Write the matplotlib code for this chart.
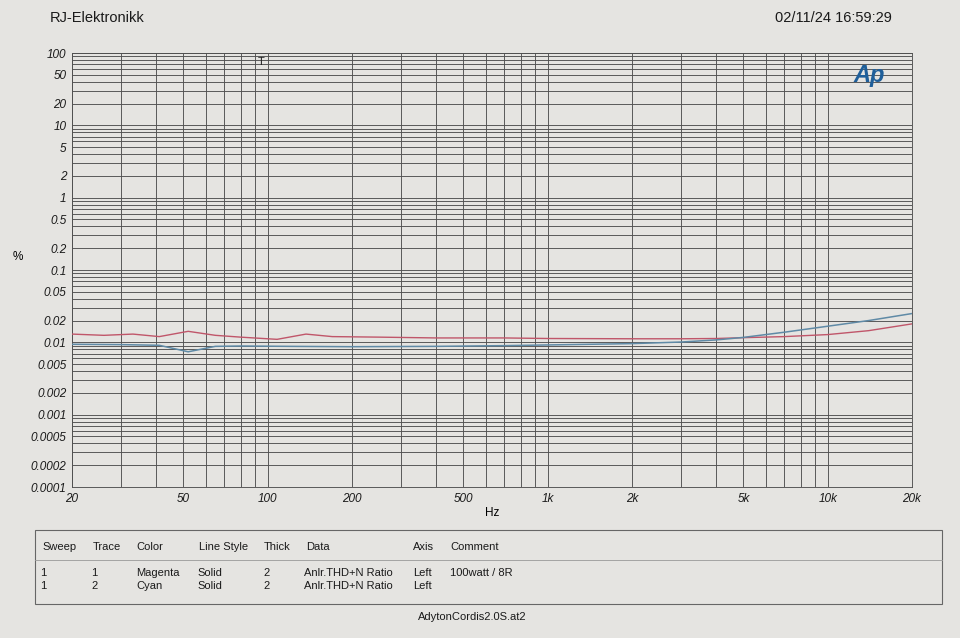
import matplotlib.pyplot as plt
import matplotlib.ticker as mticker
from matplotlib.patches import Rectangle

# THD+N ratio (%)
freq_magenta = [20, 26, 33, 41, 52, 65, 80, 108, 137, 170, 250, 400, 700, 1000,
                2000, 3000, 4000, 5000, 7000, 10000, 14000, 20000]
thd_magenta = [0.013, 0.0125, 0.013, 0.012, 0.0142, 0.0125, 0.0118, 0.011, 0.013,
               0.012, 0.0118, 0.0115, 0.0115, 0.0113, 0.0112, 0.0112, 0.0113,
               0.0116, 0.012, 0.0128, 0.0145, 0.018]

freq_cyan = [20, 30, 41, 52, 65, 80, 120, 200, 400, 700, 1000, 2000, 3000, 4000,
             5000, 7000, 10000, 14000, 20000]
thd_cyan = [0.0094, 0.0093, 0.0091, 0.0074, 0.0088, 0.0089, 0.0088, 0.0087, 0.0088,
            0.009, 0.0092, 0.0096, 0.0101, 0.0108, 0.0117, 0.0138, 0.0167, 0.020, 0.025]

x_ticks = [20, 50, 100, 200, 500, 1000, 2000, 5000, 10000, 20000]
x_labels = ['20', '50', '100', '200', '500', '1k', '2k', '5k', '10k', '20k']
y_ticks = [100, 50, 20, 10, 5, 2, 1, 0.5, 0.2, 0.1, 0.05, 0.02, 0.01, 0.005,
           0.002, 0.001, 0.0005, 0.0002, 0.0001]
y_labels = ['100', '50', '20', '10', '5', '2', '1', '0.5', '0.2', '0.1', '0.05',
            '0.02', '0.01', '0.005', '0.002', '0.001', '0.0005', '0.0002', '0.0001']

table_header = ['Sweep', 'Trace', 'Color', 'Line Style', 'Thick', 'Data', 'Axis', 'Comment']
table_rows = [['1', '1', 'Magenta', 'Solid', '2', 'Anlr.THD+N Ratio', 'Left', '100watt / 8R'],
              ['1', '2', 'Cyan', 'Solid', '2', 'Anlr.THD+N Ratio', 'Left', '']]

plt.rcParams['font.family'] = ['Liberation Sans', 'DejaVu Sans']
W, H = 960, 638
bg = '#e5e4e1'
fig = plt.figure(figsize=(9.6, 6.38), dpi=100, facecolor=bg)

ax = fig.add_axes([72 / W, 1 - 487 / H, (912 - 72) / W, (487 - 53) / H])
ax.set_facecolor(bg)
ax.set_xscale('log')
ax.set_yscale('log')
ax.set_xlim(20, 20000)
ax.set_ylim(0.0001, 100)

ax.plot(freq_magenta, thd_magenta, color='#c0566a', lw=1.0, zorder=3)
ax.plot(freq_cyan, thd_cyan, color='#5f8aa6', lw=1.1, zorder=3)

ax.xaxis.set_major_locator(mticker.FixedLocator(x_ticks))
ax.xaxis.set_major_formatter(mticker.FixedFormatter(x_labels))
ax.xaxis.set_minor_locator(mticker.LogLocator(base=10, subs=range(1, 10), numticks=20))
ax.xaxis.set_minor_formatter(mticker.NullFormatter())
ax.yaxis.set_major_locator(mticker.FixedLocator(y_ticks))
ax.yaxis.set_major_formatter(mticker.FixedFormatter(y_labels))
ax.yaxis.set_minor_locator(mticker.LogLocator(base=10, subs=range(1, 10), numticks=20))
ax.yaxis.set_minor_formatter(mticker.NullFormatter())

ax.grid(True, which='both', color='#505050', lw=0.65)
ax.tick_params(which='both', length=0, pad=4, labelsize=8.5, colors='#1a1a1a')
for lab in ax.get_xticklabels() + ax.get_yticklabels():
    lab.set_fontstyle('italic')
for s in ax.spines.values():
    s.set_color('#505050')
    s.set_linewidth(0.65)

ax.text(-0.065, 0.53, '%', transform=ax.transAxes, fontsize=8.5, ha='center', va='center')
ax.text(0.5, -0.06, 'Hz', transform=ax.transAxes, fontsize=8.5, ha='center', va='center')
ax.text(95, 75, 'T', fontsize=8, ha='center', va='center', color='#222222')
ax.text(0.968, 0.975, 'Ap', transform=ax.transAxes, fontsize=17, fontweight='bold',
        fontstyle='italic', color='#1f5f9a', ha='right', va='top')

fig.text(50 / W, 1 - 18 / H, 'RJ-Elektronikk', fontsize=10.5, ha='left', va='center', color='#1a1a1a')
fig.text(892 / W, 1 - 18 / H, '02/11/24 16:59:29', fontsize=10.5, ha='right', va='center', color='#1a1a1a')

# settings table at the bottom
fig.add_artist(Rectangle((35 / W, 1 - 604 / H), (942 - 35) / W, (604 - 530) / H,
                         transform=fig.transFigure, fill=False, ec='#666666', lw=0.8))
fig.add_artist(plt.Line2D([35 / W, 942 / W], [1 - 560 / H, 1 - 560 / H],
                          transform=fig.transFigure, color='#999999', lw=0.6))
col_x = [42, 93, 136, 199, 264, 306, 413, 450]
row_x = [40, 91, 136, 197, 263, 304, 413, 450]
for x, t in zip(col_x, table_header):
    fig.text(x / W, 1 - 547 / H, t, fontsize=8, ha='left', va='center', color='#1a1a1a')
for y, row in zip([573, 586], table_rows):
    for x, t in zip(row_x, row):
        fig.text(x / W, 1 - y / H, t, fontsize=8, ha='left', va='center', color='#1a1a1a')
fig.text(418 / W, 1 - 617 / H, 'AdytonCordis2.0S.at2', fontsize=8, ha='left', va='center', color='#1a1a1a')

fig.savefig('out.png', dpi=100, facecolor=bg)
